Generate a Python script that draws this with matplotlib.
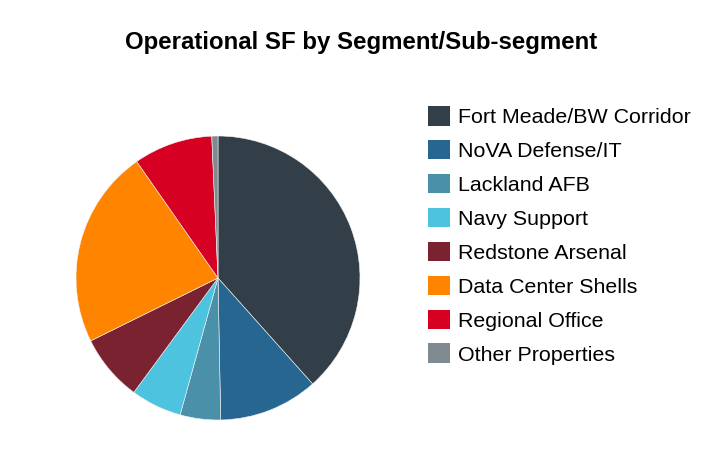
import matplotlib.pyplot as plt
from matplotlib.patches import Patch

plt.rcParams['font.family'] = ['Liberation Sans', 'DejaVu Sans']

segments = ['Fort Meade/BW Corridor', 'NoVA Defense/IT', 'Lackland AFB', 'Navy Support',
            'Redstone Arsenal', 'Data Center Shells', 'Regional Office', 'Other Properties']
share = [38.4, 11.3, 4.6, 5.8, 7.6, 22.6, 9.0, 0.7]
colors = ['#333f48', '#276690', '#4a90a8', '#4dc3e0', '#7a2230', '#ff8500', '#d50022', '#7f8a91']

fig = plt.figure(figsize=(7.22, 4.70), dpi=100)
ax = fig.add_axes([76 / 722, 50 / 470, 284 / 722, 284 / 470])
ax.pie(share, colors=colors, startangle=90, counterclock=False,
       wedgeprops=dict(linewidth=0.4, edgecolor='#f4f4f4'))
ax.set_xlim(-1, 1)
ax.set_ylim(-1, 1)
ax.set_aspect('equal')

fig.text(0.5, 1 - 42 / 470, 'Operational SF by Segment/Sub-segment',
         ha='center', va='center', fontsize=17.3, fontweight='bold')

handles = [Patch(facecolor=c, edgecolor='none') for c in colors]
fig.legend(handles, segments, loc='upper left', bbox_to_anchor=(428 / 722, 1 - 106 / 470),
           frameon=False, fontsize=15.4, handlelength=1.03, handleheight=1.03,
           labelspacing=0.6, handletextpad=0.37, borderaxespad=0, borderpad=0)

fig.savefig('out.png', dpi=100)
